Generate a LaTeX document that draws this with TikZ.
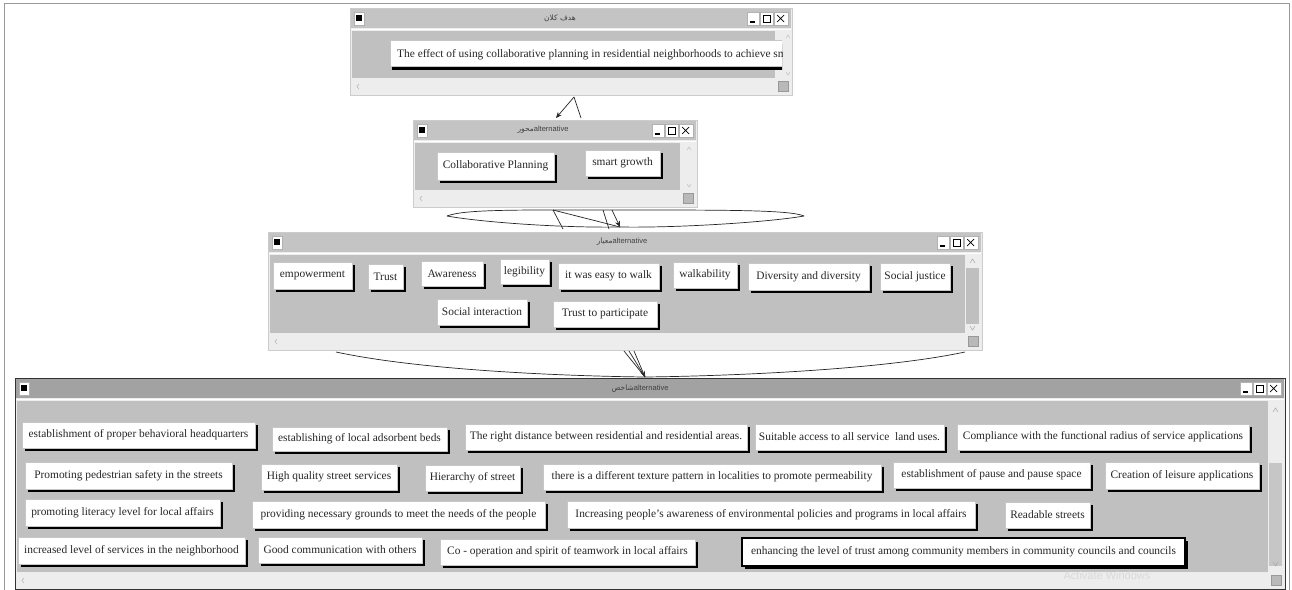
\documentclass[tikz,border=0pt]{standalone}
\usepackage{fontspec}
\setmainfont{Liberation Serif}
\newfontfamily\arabicfont[Script=Arabic]{DejaVu Sans}
\newfontfamily\uisans{Liberation Sans}
\TeXXeTstate=1
\usetikzlibrary{shadows,arrows.meta}
\definecolor{wingray}{HTML}{C0C0C0}
\definecolor{winlight}{HTML}{EDEDED}
\definecolor{titlegray}{HTML}{C4C4C4}
\definecolor{titledark}{HTML}{A2A2A2}
\tikzset{
  btn/.style={draw=gray!45, fill=white, line width=0.6pt, inner sep=1pt,
    font=\fontsize{11.4}{12}\selectfont, text=black!85,
    general shadow={fill=black, shadow xshift=2.6pt, shadow yshift=-2.6pt}},
  selbtn/.style={btn, draw=black, line width=1.6pt},
  wintitle/.style={font=\uisans\fontsize{7.5}{8}\selectfont, text=black!75, inner sep=0pt},
  conn/.style={line width=0.7pt, black!85},
  tip/.style={-{Stealth[length=6pt,width=5pt]}}
}
% \winframe{width}{height}{title fill}{outline}
\newcommand\winframe[4]{%
  \fill[winlight] (0,0) rectangle (#1,#2);
  \draw[#4, line width=0.7pt] (0,0) rectangle (#1,#2);
  \fill[#3] (1,1) rectangle (#1-1,20);
  \draw[white, line width=0.8pt] (1,21.5) -- (#1-1,21.5);
  \fill[wingray] (2,23) rectangle (#1-17,#2-17);
  \draw[gray!60, fill=white] (4,4) rectangle (14,17);
  \fill[black] (6,7) rectangle (12,13);
  \draw[gray!60, fill=white] (#1-45,4) rectangle (#1-33,17);
  \draw[line width=1.2pt] (#1-42,14) -- (#1-37,14);
  \draw[gray!60, fill=white] (#1-32,4) rectangle (#1-19,17);
  \draw[line width=0.6pt] (#1-29,7) rectangle (#1-22,14);
  \draw[gray!60, fill=white] (#1-18,4) rectangle (#1-4,17);
  \draw[line width=0.7pt] (#1-15,7) -- (#1-8,14) (#1-15,14) -- (#1-8,7);
  \draw[gray!60, line width=0.5pt] (9,#2-11) -- (7,#2-8.5) -- (9,#2-6);
  \fill[gray!55] (#1-14,#2-14) rectangle (#1-4,#2-4);
  \draw[gray!80, line width=0.5pt] (#1-14,#2-14) rectangle (#1-4,#2-4);
}
\newcommand\btn[7][btn]{%
  \node[#1, minimum width={(#5-#3)*1pt}, minimum height={(#6-#4)*1pt}]
    (#2) at ({(#3+#5)/2},{(#4+#6)/2}) {#7};}
\begin{document}
\begin{tikzpicture}[x=1pt,y=-1pt]
\useasboundingbox (0,0) rectangle (1292,589);
\fill[white] (0,0) rectangle (1292,589);
\draw[gray!80, line width=0.8pt] (4,3) -- (1289,3) -- (1289,595);
\draw[gray!80, line width=0.8pt] (4,3) -- (4,595);

% ---------- window 1 ----------
\begin{scope}[shift={(350,8)}]
  \winframe{442}{87}{titlegray}{gray!40}
  \node[wintitle] (t1) at (210,10) {\arabicfont\beginR هدف کلان\endR};
  \draw[gray!50, line width=0.5pt] (436,30) -- (438,27) -- (440,30);
  \draw[gray!50, line width=0.5pt] (436,64) -- (438,67) -- (440,64);
\end{scope}
\begin{scope}
  \clip (352,30) rectangle (782,80);
  \fill[black] (392,44) rectangle (800,70);
  \node[draw=gray!45, fill=white, line width=0.6pt, anchor=north west,
        minimum width=420pt, minimum height=26pt, inner sep=0pt] (goal) at (390,40) {};
  \node[anchor=west, inner sep=0pt, font=\fontsize{11.4}{12}\selectfont, text=black!85]
        (goaltext) at (397,55) {The effect of using collaborative planning in residential neighborhoods to achieve smart growth};
\end{scope}

% ---------- window 2 ----------
\begin{scope}[shift={(413,120)}]
  \winframe{284}{87}{titlegray}{gray!40}
  \node[wintitle] (t2) at (130,10) {{\arabicfont\beginR محور\endR}alternative};
  \draw[gray!50, line width=0.5pt] (274,30) -- (276,27) -- (278,30);
  \draw[gray!50, line width=0.5pt] (274,64) -- (276,67) -- (278,64);
\end{scope}
\btn{cp}{437}{152}{554}{180}{Collaborative Planning}
\btn{sg}{585}{150}{660}{176}{smart growth}

% ---------- window 3 ----------
\begin{scope}[shift={(268,232)}]
  \winframe{714}{118}{titlegray}{gray!40}
  \node[wintitle] (t3) at (354,10) {{\arabicfont\beginR معیار\endR}alternative};
  \fill[gray!50] (698,36) rectangle (711,92);
  \draw[gray!70, line width=0.5pt] (702,31) -- (704.5,27) -- (707,31);
  \draw[gray!70, line width=0.5pt] (702,94) -- (704.5,98) -- (707,94);
\end{scope}
\btn{emp}{273}{262}{352}{289}{empowerment}
\btn{trust}{368}{264}{403}{289}{Trust}
\btn{aware}{421}{261}{483}{286}{Awareness}
\btn{leg}{500}{259}{549}{284}{legibility}
\btn{easy}{558}{263}{659}{289}{it was easy to walk}
\btn{walk}{673}{262}{737}{288}{walkability}
\btn{div}{748}{263}{869}{290}{Diversity and diversity}
\btn{sj}{880}{263}{950}{290}{Social justice}
\btn{si}{437}{299}{527}{325}{Social interaction}
\btn{ttp}{553}{301}{657}{327}{Trust to participate}

% ---------- window 4 ----------
\begin{scope}[shift={(15,378)}]
  \winframe{1270}{211}{titledark}{black!80}
  \node[wintitle] (t4) at (625,11) {{\arabicfont\beginR شاخص\endR}alternative};
  \fill[gray!45] (1254,85) rectangle (1267,188);
  \draw[gray!70, line width=0.5pt] (1258,34) -- (1260.5,30) -- (1263,34);
  \draw[gray!70, line width=0.5pt] (1258,184) -- (1260.5,188) -- (1263,184);
  \node[font=\uisans\fontsize{11}{12}\selectfont, text=gray!30, inner sep=0pt]
    (wm) at (1092,198) {Activate Windows};
\end{scope}
\btn{a1}{22}{422}{255}{448}{establishment of proper behavioral headquarters}
\btn{a2}{272}{427}{447}{451}{establishing of local adsorbent beds}
\btn{a3}{465}{424}{747}{450}{The right distance between residential and residential areas.}
\btn{a4}{755}{424}{944}{450}{Suitable access to all service \ land uses.}
\btn{a5}{957}{424}{1249}{450}{Compliance with the functional radius of service applications}
\btn{b1}{25}{462}{232}{489}{Promoting pedestrian safety in the streets}
\btn{b2}{261}{464}{397}{490}{High quality street services}
\btn{b3}{425}{465}{520}{491}{Hierarchy of street}
\btn{b4}{543}{464}{881}{490}{there is a different texture pattern in localities to promote permeability}
\btn{b5}{893}{462}{1090}{488}{establishment of pause and pause space}
\btn{b6}{1105}{462}{1259}{489}{Creation of leisure applications}
\btn{c1}{25}{499}{220}{526}{promoting literacy level for local affairs}
\btn{c2}{252}{501}{545}{528}{providing necessary grounds to meet the needs of the people}
\btn{c3}{567}{501}{975}{528}{Increasing people's awareness of environmental policies and programs in local affairs}
\btn{c4}{1005}{502}{1090}{528}{Readable streets}
\btn{d1}{18}{537}{245}{564}{increased level of services in the neighborhood}
\btn{d2}{258}{537}{422}{563}{Good communication with others}
\btn{d3}{440}{539}{695}{565}{Co - operation and spirit of teamwork in local affairs}
\btn[selbtn]{d4}{742}{538}{1185}{566}{enhancing the level of trust among community members in community councils and councils}

% ---------- connectors ----------
\coordinate (k1) at (574,97);
\coordinate (k1a) at (556,118);
\coordinate (k1b) at (581,118);
\draw[conn, tip] (k1) -- (k1a);
\draw[conn] (k1) -- (k1b);

\coordinate (k2l) at (447,216);
\coordinate (k2r) at (804,216);
\coordinate (k2t) at (620,227);
\coordinate (k2s1) at (553,210);
\coordinate (k2s2) at (603,210);
\coordinate (k2s3) at (612,210);
\coordinate (k2e1) at (563,229);
\draw[conn] (k2l) .. controls (465,209) and (520,210) .. (625,210)
            .. controls (730,210) and (790,210) .. (k2r);
\draw[conn] (k2l) .. controls (480,222) and (560,228) .. (k2t);
\draw[conn] (k2r) .. controls (770,222) and (680,228) .. (k2t);
\draw[conn] (k2s1) -- (k2e1);
\draw[conn] (k2s1) -- (k2t);
\draw[conn] (k2s2) -- (609,229);
\draw[conn, tip] (k2s3) -- (k2t);

\coordinate (k3l) at (336,352);
\coordinate (k3r) at (965,352);
\coordinate (k3t) at (645,377);
\draw[conn] (k3l) .. controls (420,370) and (560,376) .. (k3t);
\draw[conn] (k3r) .. controls (880,370) and (730,376) .. (k3t);
\draw[conn] (624,351) -- (k3t);
\draw[conn] (629,351) -- (k3t);
\draw[conn, tip] (634,351) -- (k3t);
\end{tikzpicture}
\end{document}
